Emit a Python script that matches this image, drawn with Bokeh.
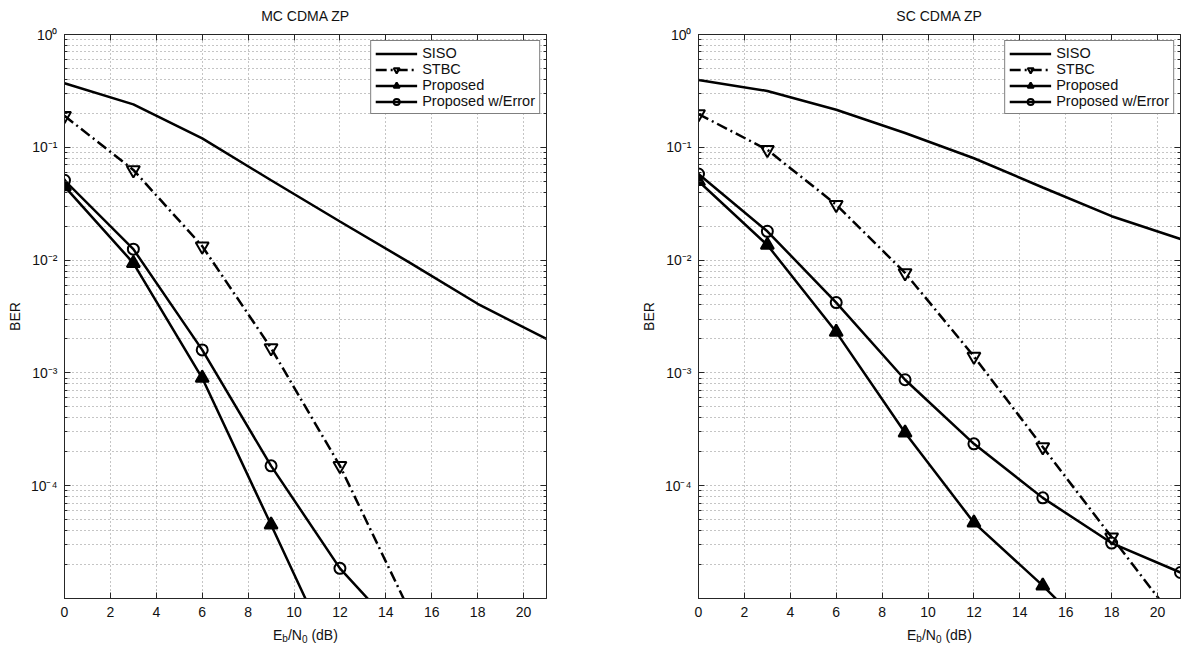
from bokeh.plotting import figure
from bokeh.layouts import row, column
from bokeh.models import (FixedTicker, LogAxis, LinearAxis, CustomJSTickFormatter,
                          Legend, LegendItem, Range1d)
from bokeh.core.properties import value
from bokeh.embed import file_html
from bokeh.resources import INLINE

# ---------------- data ----------------
x_db = [0, 3, 6, 9, 12, 15, 18, 21]

# MC CDMA ZP (left)
mc_siso = [0.37, 0.24, 0.12, 0.051, 0.022, 0.0096, 0.0041, 0.002]
mc_stbc = [0.19, 0.063, 0.0133, 0.00166, 0.00015, 8e-6]
mc_prop = [0.045, 0.0094, 0.0009, 4.5e-5, 2.2e-6]
mc_prop_err = [0.051, 0.0125, 0.0016, 0.00015, 1.85e-5, 4e-6]

# SC CDMA ZP (right)
sc_siso = [0.395, 0.316, 0.215, 0.134, 0.080, 0.044, 0.0245, 0.0154]
sc_stbc = [0.197, 0.095, 0.031, 0.0077, 0.0014, 2.2e-4, 3.5e-5, 5.6e-6]
sc_prop = [0.050, 0.0136, 0.0023, 2.95e-4, 4.7e-5, 1.3e-5, 3.2e-6]
sc_prop_err = [0.058, 0.018, 0.0042, 8.7e-4, 2.35e-4, 7.8e-5, 3.1e-5, 1.7e-5]

titles = ["MC CDMA ZP", "SC CDMA ZP"]
legend_labels = ["SISO", "STBC", "Proposed", "Proposed w/Error"]
x_ticks = list(range(0, 21, 2))
y_major = [1e-4, 1e-3, 1e-2, 1e-1, 1.0]
y_minor = [m * 10.0 ** e for e in range(-5, 0) for m in range(2, 10)]
# x-axis label pieces: (text, font size, subscript?)
xlabel_parts = [("E", "14px", False), ("b", "10px", True), ("/N", "14px", False),
                ("0", "10px", True), ("(dB)", "14px", False)]
xlabel_dx = [-32.5, -23.2, -17.6, -3.6, 5.9]

FONT = "Liberation Sans"
AX = "#262626"
GRID = "#8a8a8a"
TXT = "#111111"

sup_fmt = CustomJSTickFormatter(code="""
const e = Math.round(Math.log10(tick));
const sup = {"0":"\u2070","1":"\u00b9","2":"\u00b2","3":"\u00b3","4":"\u2074",
             "5":"\u2075","6":"\u2076","7":"\u2077","8":"\u2078","9":"\u2079","-":"\u207b"};
return "10" + String(e).split("").map(c => sup[c]).join("");
""")
empty_fmt = CustomJSTickFormatter(code="return '';")


def style_axis(ax, labels=True):
    ax.axis_line_color = AX
    ax.major_tick_line_color = AX
    ax.minor_tick_line_color = AX
    ax.major_tick_in = 6
    ax.major_tick_out = 0
    ax.minor_tick_in = 3
    ax.minor_tick_out = 0
    ax.major_label_text_font = FONT
    ax.major_label_text_font_size = "14px"
    ax.major_label_text_color = TXT
    ax.axis_label_text_font = FONT
    ax.axis_label_text_font_size = "14px"
    ax.axis_label_text_font_style = "normal"
    ax.axis_label_text_color = TXT
    if not labels:
        ax.major_label_standoff = 0


H_TITLE = 22
H_MAIN = 602
H_LAB = 30


def text_strip(width, height, border_left, border_right):
    s = figure(width=width, height=height, x_range=Range1d(0, 21), y_range=Range1d(0, height),
               output_backend="svg", toolbar_location=None, title=None,
               min_border_left=border_left, min_border_right=border_right,
               min_border_top=0, min_border_bottom=0)
    s.axis.visible = False
    s.grid.visible = False
    s.outline_line_color = None
    s.background_fill_color = "white"
    s.border_fill_color = "white"
    return s


def make_panel(title, siso, stbc, prop, perr, border_left, border_right, width):
    # title strip
    ts = text_strip(width, H_TITLE, border_left, border_right)
    ts.text(x=[10.5], y=[H_TITLE - 15], text=[title], text_align="center",
            text_baseline="middle", text_font=value(FONT), text_font_size="14px",
            text_color=TXT)

    p = figure(width=width, height=H_MAIN, y_axis_type="log",
               x_range=Range1d(0, 21), y_range=Range1d(1e-5, 1.0),
               output_backend="svg", toolbar_location=None, title=None,
               min_border_left=border_left, min_border_right=border_right,
               min_border_top=12, min_border_bottom=26)
    p.background_fill_color = "white"
    p.border_fill_color = "white"
    p.outline_line_color = AX
    p.outline_line_width = 1

    xt = FixedTicker(ticks=x_ticks, minor_ticks=[])
    yt = FixedTicker(ticks=y_major, minor_ticks=y_minor)
    p.xaxis.ticker = xt
    p.yaxis.ticker = yt
    p.yaxis.formatter = sup_fmt
    p.yaxis.axis_label = "BER"
    p.yaxis.axis_label_standoff = 5
    p.yaxis.major_label_standoff = 7
    p.xaxis.major_label_standoff = 8
    style_axis(p.xaxis[0])
    style_axis(p.yaxis[0])

    top = LinearAxis(ticker=xt, formatter=empty_fmt)
    style_axis(top, labels=False)
    p.add_layout(top, "above")
    right = LogAxis(ticker=yt, formatter=empty_fmt)
    style_axis(right, labels=False)
    p.add_layout(right, "right")

    for g in (p.xgrid[0], p.ygrid[0]):
        g.grid_line_color = GRID
        g.grid_line_dash = "1 3"
        g.grid_line_width = 1
    p.ygrid[0].minor_grid_line_color = GRID
    p.ygrid[0].minor_grid_line_dash = "1 3"
    p.ygrid[0].minor_grid_line_width = 1

    lw = 2.5
    r_siso = p.line(x_db[:len(siso)], siso, line_color="black", line_width=lw)
    r_stbc_l = p.line(x_db[:len(stbc)], stbc, line_color="black", line_width=lw,
                      line_dash="11 4 2 4")
    r_stbc_m = p.scatter(x_db[:len(stbc)], stbc, marker="inverted_triangle", size=13,
                         line_color="black", line_width=2, fill_alpha=0)
    r_prop_l = p.line(x_db[:len(prop)], prop, line_color="black", line_width=lw)
    r_prop_m = p.scatter(x_db[:len(prop)], prop, marker="triangle", size=13,
                         line_color="black", line_width=2, fill_color="black")
    r_perr_l = p.line(x_db[:len(perr)], perr, line_color="black", line_width=lw)
    r_perr_m = p.scatter(x_db[:len(perr)], perr, marker="circle", size=11,
                         line_color="black", line_width=2, fill_alpha=0)

    items = [LegendItem(label=legend_labels[0], renderers=[r_siso]),
             LegendItem(label=legend_labels[1], renderers=[r_stbc_l, r_stbc_m]),
             LegendItem(label=legend_labels[2], renderers=[r_prop_l, r_prop_m]),
             LegendItem(label=legend_labels[3], renderers=[r_perr_l, r_perr_m])]
    leg = Legend(items=items, location="top_right", margin=6, padding=4, spacing=0,
                 glyph_width=42, glyph_height=15, label_height=15, label_standoff=5,
                 label_text_font=FONT, label_text_font_size="14.5px",
                 label_text_color=TXT,
                 border_line_color="black", border_line_width=1,
                 background_fill_color="white", background_fill_alpha=1.0)
    p.add_layout(leg)

    # strip below the plot holding the x-axis label E_b/N_0 (dB)
    lab = text_strip(width, H_LAB, border_left, border_right)
    for (t, fs, sub), dx in zip(xlabel_parts, xlabel_dx):
        lab.text(x=[10.5], y=[H_LAB - 10], text=[t], x_offset=dx, y_offset=4 if sub else 0,
                 text_align="left", text_baseline="alphabetic",
                 text_font=value(FONT), text_font_size=fs, text_color=TXT)
    return column(ts, p, lab)


c1 = make_panel(titles[0], mc_siso, mc_stbc, mc_prop, mc_prop_err, 64, 54, 600)
c2 = make_panel(titles[1], sc_siso, sc_stbc, sc_prop, sc_prop_err, 98, 12, 592)

layout = row(c1, c2)
open("out.html", "w").write(file_html(layout, INLINE))
